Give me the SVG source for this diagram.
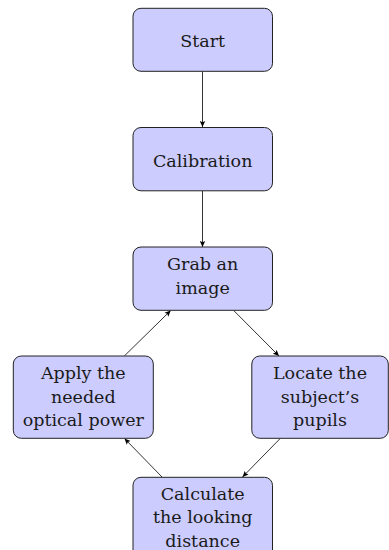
<svg xmlns="http://www.w3.org/2000/svg" width="389" height="550" viewBox="0 0 389 550">
  <style>
    .box { fill: #ccccff; stroke: #222; stroke-width: 1; }
    .lbl { font-family: 'DejaVu Serif', serif; font-size: 17.5px; fill: #1a1a1a; text-anchor: middle; }
    .edge { stroke: #000; stroke-width: 0.8; fill: none; marker-end: url(#arr); }
  </style>
  <defs>
    <marker id="arr" markerUnits="userSpaceOnUse" markerWidth="8" markerHeight="6" refX="6" refY="3" orient="auto">
      <path d="M0,0.3 L6,3 L0,5.7 L1.2,3 z" fill="#000"/>
    </marker>
  </defs>
  <g id="connectors">
    <line class="edge" x1="202.5" y1="71.5" x2="202.5" y2="127"/>
    <line class="edge" x1="202.5" y1="191" x2="202.5" y2="247"/>
    <line class="edge" x1="233.7" y1="310.5" x2="279" y2="356"/>
    <line class="edge" x1="280.2" y1="438.5" x2="242.5" y2="477"/>
    <line class="edge" x1="162" y1="477" x2="124.5" y2="438.5"/>
    <line class="edge" x1="124.3" y1="356" x2="170.7" y2="310.5"/>
  </g>
  <g id="start">
    <rect class="box" x="133" y="8.3" width="139.5" height="63" rx="8"/>
    <text class="lbl" x="202.7" y="46.7">Start</text>
  </g>
  <g id="calibration">
    <rect class="box" x="133" y="127.5" width="139.5" height="63.3" rx="8"/>
    <text class="lbl" x="202.7" y="166.7">Calibration</text>
  </g>
  <g id="grab">
    <rect class="box" x="133" y="247" width="139.5" height="63.3" rx="8"/>
    <text class="lbl" x="202.7" y="270">Grab an</text>
    <text class="lbl" x="202.7" y="293.7">image</text>
  </g>
  <g id="apply">
    <rect class="box" x="13.3" y="356" width="140" height="82.3" rx="8"/>
    <text class="lbl" x="83.3" y="379.3">Apply the</text>
    <text class="lbl" x="83.3" y="402.7">needed</text>
    <text class="lbl" x="83.3" y="426">optical power</text>
  </g>
  <g id="locate">
    <rect class="box" x="251.8" y="356" width="136.5" height="82.3" rx="8"/>
    <text class="lbl" x="320" y="379.3">Locate the</text>
    <text class="lbl" x="320" y="402.7">subject’s</text>
    <text class="lbl" x="320" y="426">pupils</text>
  </g>
  <g id="calculate">
    <rect class="box" x="133" y="477.3" width="139.5" height="82.3" rx="8"/>
    <text class="lbl" x="202.7" y="500">Calculate</text>
    <text class="lbl" x="202.7" y="523.3">the looking</text>
    <text class="lbl" x="202.7" y="546.5">distance</text>
  </g>
</svg>
